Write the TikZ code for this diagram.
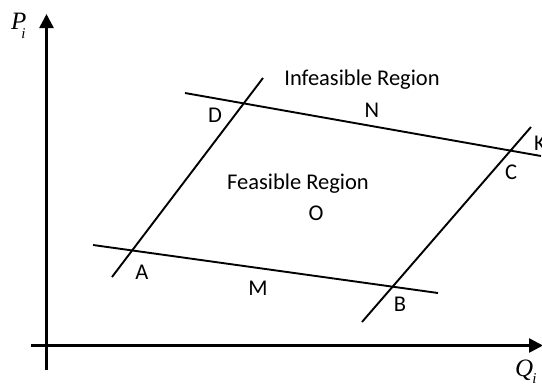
\documentclass[tikz,border=0pt]{standalone}
\usepackage{fontspec}
\setmainfont{Carlito}
\newfontfamily\mathserif{Liberation Serif}
\usetikzlibrary{arrows.meta}
\begin{document}
\begin{tikzpicture}[x=1pt,y=-1pt,
  axis/.style={line width=2.6pt,-{Triangle[width=14pt,length=14pt]}},
  bound/.style={line width=1.9pt},
  lbl/.style={inner sep=0pt,font=\fontsize{22.5}{24}\selectfont},
  axlbl/.style={inner sep=0pt,anchor=base west,font=\fontsize{25}{27}\selectfont\mathserif\itshape}]
\useasboundingbox (0,0) rectangle (542,384);
% axes
\coordinate (yb) at (46.5,370);
\coordinate (yt) at (46.5,14);
\coordinate (xl) at (31,345.5);
\coordinate (xr) at (543,345.5);
\draw[axis] (yb) -- (yt);
\draw[axis] (xl) -- (xr);
% boundary lines
\coordinate (t1) at (185,93);
\coordinate (t2) at (541,156);
\coordinate (b1) at (93,245);
\coordinate (b2) at (438,293);
\coordinate (l1) at (112,277);
\coordinate (l2) at (263,78);
\coordinate (r1) at (362,322);
\coordinate (r2) at (531,127);
\draw[bound] (t1) -- (t2);
\draw[bound] (b1) -- (b2);
\draw[bound] (l1) -- (l2);
\draw[bound] (r1) -- (r2);
% labels
\node[axlbl] (P) at (11,29) {P\kern-5pt\raisebox{-9pt}{\fontsize{15}{17}\selectfont i}};
\node[axlbl] (Q) at (515,376) {Q\kern-1pt\raisebox{-7pt}{\fontsize{15}{17}\selectfont i}};
\node[lbl] (inf) at (362,80) {Infeasible Region};
\node[lbl] (N) at (372,110) {N};
\node[lbl] (D) at (215,115) {D};
\node[lbl] (fea) at (298,184) {Feasible Region};
\node[lbl] (O) at (316,213) {O};
\node[lbl] (C) at (511,172) {C};
\node[lbl,anchor=west] (K) at (534,143) {K};
\node[lbl] (A) at (142,272) {A};
\node[lbl] (M) at (258,288) {M};
\node[lbl] (B) at (400,304) {B};
\end{tikzpicture}
\end{document}
